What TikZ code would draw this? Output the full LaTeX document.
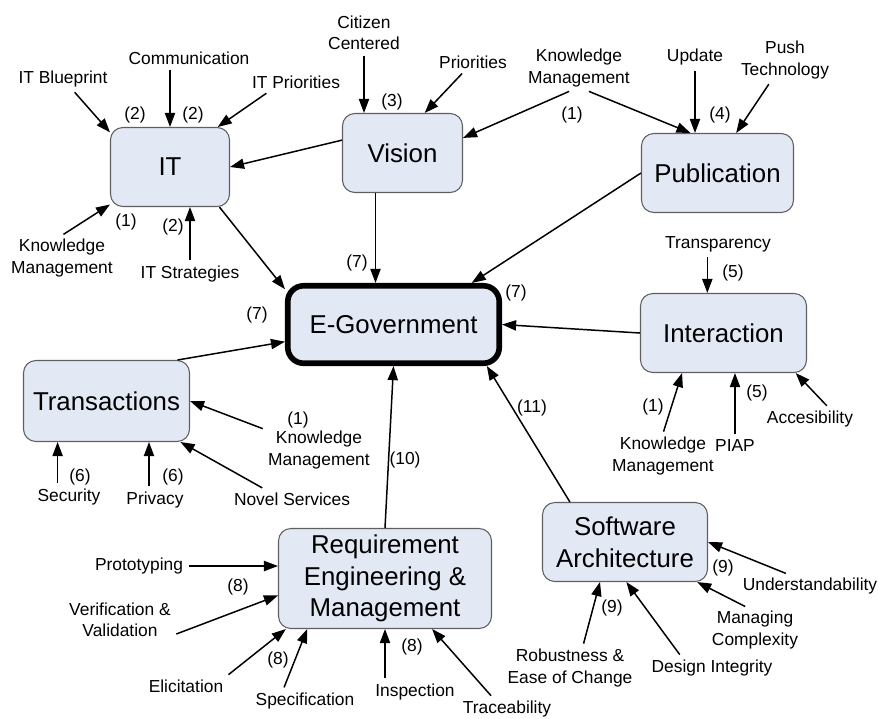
\documentclass[tikz,border=0pt]{standalone}
\usepackage{fontspec}
\setmainfont{Liberation Sans}
\usetikzlibrary{arrows.meta}

\definecolor{boxfill}{RGB}{226,232,244}
\definecolor{boxedge}{RGB}{95,95,95}

\tikzset{
  box/.style={draw=boxedge, line width=0.6pt, fill=boxfill, rounded corners=7pt,
    minimum height=1.58cm, inner sep=2pt, align=center,
    font=\fontsize{14.7}{18}\selectfont},
  hub/.style={box, draw=black, line width=3.2pt, rounded corners=9pt},
  lbl/.style={align=center, inner sep=2pt, font=\fontsize{9.9}{12.2}\selectfont},
  num/.style={lbl},
  link/.style={-{Triangle[length=8pt,width=5.8pt]}, line width=0.85pt},
  feed/.style={link, shorten <=1pt},
}

\begin{document}
\begin{tikzpicture}[x=0.02cm, y=-0.02cm]
\useasboundingbox (0,0) rectangle (879,718);

% Boxes
\node[box, minimum width=2.38cm] (it) at (170,167) {IT};
\node[box, minimum width=2.4cm] (vision) at (402.5,153) {Vision};
\node[box, minimum width=3.04cm] (pub) at (717.5,173) {Publication};
\node[hub, minimum width=4.23cm, minimum height=1.55cm] (egov) at (393.5,324.5) {E-Government};
\node[box, minimum width=3.32cm] (inter) at (723.5,333) {Interaction};
\node[box, minimum width=3.32cm, minimum height=1.62cm] (trans) at (106.5,401) {Transactions};
\node[box, minimum width=4.26cm, minimum height=2cm] (req) at (385,578.5) {Requirement\\Engineering \&\\Management};
\node[box, minimum width=3.3cm] (soft) at (625,542) {Software\\Architecture};

% Arrows between boxes
\draw[link] (it.321) -- (egov.162);
\draw[link] (vision.168) -- (it.east);
\draw[link] (vision.236) -- (vision.236 |- egov.north);
\draw[link] (pub.west) -- (egov.28);
\draw[link] (inter.west) -- (egov.east);
\draw[link] (trans.30) -- (egov.189);
\draw[link] (req.north) -- (egov.south);
\draw[link] (soft.144) -- (egov.336);

% Inputs to IT
\node[lbl] (itblue) at (63,79) {IT Blueprint};
\node[lbl] (comm) at (189,58) {Communication};
\node[lbl] (itprio) at (296,82) {IT Priorities};
\node[lbl] (kmit) at (62,258) {Knowledge\\Management};
\node[lbl] (itstrat) at (190,274) {IT Strategies};
\draw[feed] (itblue) -- (it.150);
\draw[feed] (comm.south -| it.north) -- (it.north);
\draw[feed] (itprio.200) -- (it.40);
\draw[feed] (kmit.north) -- (it.212);
\draw[feed] (itstrat) -- (itstrat |- it.south);

% Inputs to Vision and Publication
\node[lbl] (citizen) at (364,33) {Citizen\\Centered};
\node[lbl] (prio) at (473,62) {Priorities};
\node[lbl] (kmtop) at (579,68) {Knowledge\\Management};
\node[lbl] (update) at (695,57) {Update};
\node[lbl] (push) at (785,60) {Push\\Technology};
\draw[feed] (citizen) -- (citizen |- vision.north);
\draw[feed] (prio) -- (vision.61);
\draw[feed] (kmtop.250) -- (vision.14);
\draw[feed] (kmtop.290) -- (pub.124);
\draw[feed] (update) -- (update |- pub.north);
\draw[feed] (push) -- (pub.65);

% Inputs to Interaction
\node[lbl] (transp) at (718,244) {Transparency};
\node[lbl] (kmint) at (663,456) {Knowledge\\Management};
\node[lbl] (piap) at (735,446) {PIAP};
\node[lbl] (acces) at (810,419) {Accesibility};
\draw[feed] (transp.south -| inter.112) -- (inter.112);
\draw[feed] (kmint.north) -- (inter.224);
\draw[feed] (piap) -- (piap |- inter.south);
\draw[feed] ([xshift=0.36cm]acces.north) -- (inter.331);

% Inputs to Transactions
\node[lbl] (kmtr) at (319,450) {Knowledge\\Management};
\node[lbl] (novel) at (292,499) {Novel Services};
\node[lbl] (secur) at (69,497) {Security};
\node[lbl] (priv) at (155,500) {Privacy};
\draw[feed] (kmtr) -- (trans.east);
\draw[feed] (novel.160) -- (trans.331);
\draw[feed] (secur.north -| trans.220) -- (trans.220);
\draw[feed] (priv.north -| trans.316) -- (trans.316);

% Inputs to Requirement Engineering
\node[lbl] (proto) at (139,566) {Prototyping};
\node[lbl] (verif) at (120,620) {Verification \&\\Validation};
\node[lbl] (elicit) at (186,686) {Elicitation};
\node[lbl] (spec) at (305,701) {Specification};
\node[lbl] (inspect) at (415,692) {Inspection};
\node[lbl] (trace) at (507,709) {Traceability};
\draw[feed] (proto) -- (proto -| req.west);
\draw[feed] (verif.345) -- (req.189);
\draw[feed] (elicit.north east) -- (req.207);
\draw[feed] (spec.151) -- (req.213);
\draw[feed] (inspect.north -| req.south) -- (req.south);
\draw[feed] (trace.141) -- (req.313);

% Inputs to Software Architecture
\node[lbl] (under) at (810,586) {Understandability};
\node[lbl] (manag) at (755,630) {Managing\\Complexity};
\node[lbl] (design) at (712,668) {Design Integrity};
\node[lbl] (robust) at (570,668) {Robustness \&\\Ease of Change};
\draw[feed] (under.152) -- (soft.east);
\draw[feed] (manag.110) -- (soft.331);
\draw[feed] (design.159) -- (soft.272);
\draw[feed] (robust.60) -- (soft.238);

% Reference numbers
\foreach \x/\y/\t [count=\i] in {135/115/2, 193/115/2, 126/222/1, 173/227/2,
    392/102/3, 572/115/1, 720/115/4, 733/273/5, 357/263/7, 516/293/7,
    257/315/7, 653/407/1, 757/393/5, 298/420/1, 80/477/6, 173/477/6,
    405/460/10, 532/408/11, 238/587/8, 278/660/8, 412/647/8, 723/568/9,
    612/608/9}
  \node[num] (num\i) at (\x,\y) {(\t)};

\end{tikzpicture}
\end{document}
